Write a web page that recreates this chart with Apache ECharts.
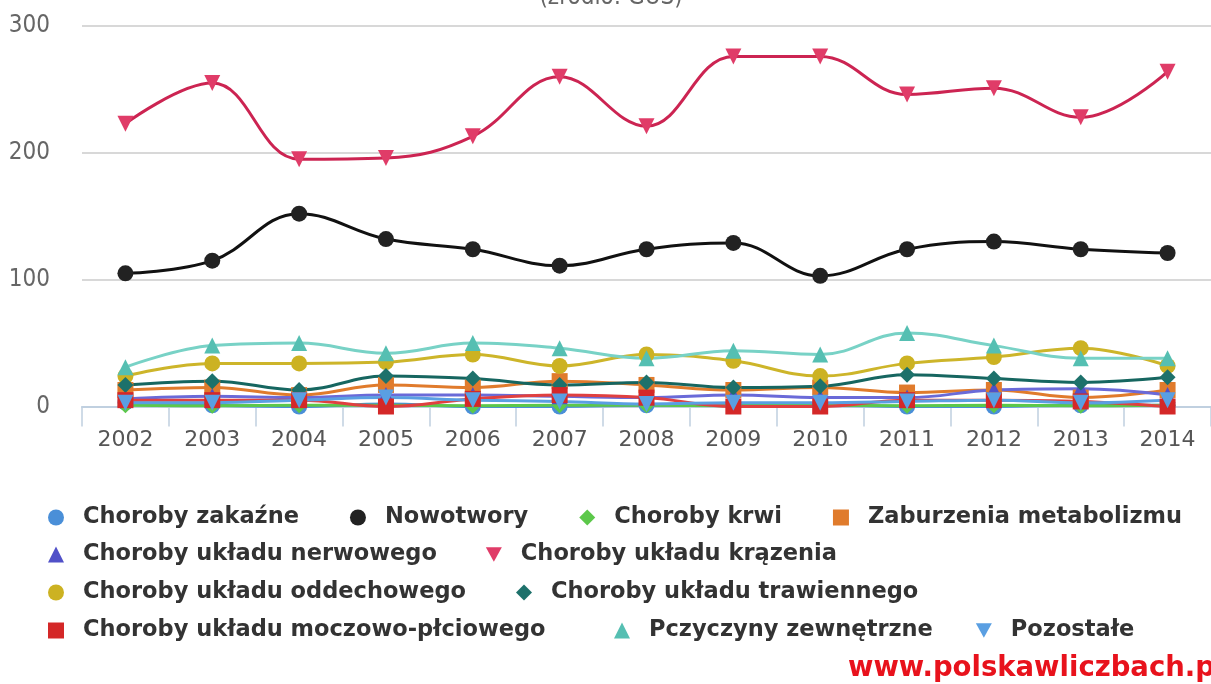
<!DOCTYPE html>
<html>
<head>
<meta charset="utf-8">
<style>
  html, body { margin: 0; padding: 0; background: #fff; }
  #chart { width: 1211px; height: 684px; }
</style>
<script src="https://cdn.jsdelivr.net/npm/echarts@6/dist/echarts.min.js"></script>
</head>
<body>
<div id="chart"></div>
<script>
// lata
var years = ['2002', '2003', '2004', '2005', '2006', '2007', '2008', '2009', '2010', '2011', '2012', '2013', '2014']

// wartości
var zakazne = [3, 1, 0, 2, 0, 0, 1, 1, 1, 0, 0, 1, 1]
var nowotwory = [105, 115, 152, 132, 124, 111, 124, 129, 103, 124, 130, 124, 121]
var krwi = [1, 0.5, 1, 1, 0.5, 1, 1, 0.5, 1, 0.5, 1, 0.5, 1]
var metabolizmu = [13, 15, 9, 17, 15, 20, 17, 13, 15, 11, 13, 7, 13]
var nerwowego = [6, 8, 7, 9, 9, 8, 7, 9, 7, 7, 13, 14, 9]
var krazenia = [223, 255, 195, 196, 213, 260, 221, 276, 276, 246, 251, 228, 264]
var oddechowego = [24, 34, 34, 35, 41, 32, 41, 36, 24, 34, 39, 46, 32]
var trawiennego = [17, 20, 13, 24, 22, 17, 19, 15, 16, 25, 22, 19, 23]
var moczowo = [5, 5, 5, 0, 6, 9, 7, 0, 0, 5, 5, 4, 0]
var zewnetrzne = [31, 48, 50, 42, 50, 46, 38, 44, 41, 58, 48, 38, 38]
var pozostale = [3, 3, 5, 7, 5, 4, 2, 3, 3, 4, 5, 3, 5]

var yTicks = [0, 100, 200, 300]

var downTri = 'path://M0,0L10,0L5,9Z'
var narrow = '"DejaVu Sans Condensed", "Liberation Sans", sans-serif'

function line(name, data, color, symbol, lineColor, rotate) {
  return {
    name: name,
    type: 'line',
    data: data,
    smooth: 0.4,
    symbol: symbol,
    symbolSize: 16,
    symbolRotate: rotate || 0,
    itemStyle: { color: color },
    lineStyle: { color: lineColor || color, width: 3 }
  }
}

function legendRow(left, top, gap, items) {
  return {
    left: left,
    top: top,
    padding: 0,
    itemWidth: 16,
    itemHeight: 16,
    itemGap: gap,
    selectedMode: false,
    textStyle: {
      fontFamily: 'DejaVu Sans',
      fontWeight: 'bold',
      fontSize: 22.5,
      color: '#333',
      padding: [0, 0, 0, 14]
    },
    data: items
  }
}

var chart = echarts.init(document.getElementById('chart'))
chart.setOption({
  animation: false,
  backgroundColor: '#fff',
  grid: { left: 82, right: -6, top: 26, bottom: 277.5, containLabel: false },
  graphic: [
    {
      type: 'text',
      x: 611,
      y: 10,
      style: {
        text: '(źródło: GUS)',
        fontFamily: narrow,
        fontSize: 24,
        fill: '#666',
        align: 'center',
        verticalAlign: 'bottom'
      }
    },
    {
      type: 'text',
      x: 848,
      y: 669,
      style: {
        text: 'www.polskawliczbach.pl',
        fontFamily: 'DejaVu Sans',
        fontWeight: 'bold',
        fontSize: 27.5,
        fill: '#e8121c',
        verticalAlign: 'middle'
      }
    }
  ],
  legend: [
    legendRow(48, 506, 51, [
      { name: 'Choroby zakaźne', icon: 'circle' },
      { name: 'Nowotwory', icon: 'circle' },
      { name: 'Choroby krwi', icon: 'diamond' },
      { name: 'Zaburzenia metabolizmu', icon: 'rect' }
    ]),
    legendRow(48, 543, 49, [
      { name: 'Choroby układu nerwowego', icon: 'triangle' },
      { name: 'Choroby układu krązenia', icon: downTri }
    ]),
    legendRow(48, 581, 50, [
      { name: 'Choroby układu oddechowego', icon: 'circle' },
      { name: 'Choroby układu trawiennego', icon: 'diamond' }
    ]),
    legendRow(48, 619, 46, [
      { name: 'Choroby układu moczowo-płciowego', icon: 'rect' }
    ]),
    legendRow(614, 619, 43, [
      { name: 'Pczyczyny zewnętrzne', icon: 'triangle' },
      { name: 'Pozostałe', icon: downTri }
    ])
  ],
  xAxis: {
    type: 'category',
    data: years,
    boundaryGap: true,
    axisLine: { lineStyle: { color: '#c0d0e0', width: 2 } },
    axisTick: { show: true, length: 20, lineStyle: { color: '#c0d0e0', width: 1.5 } },
    axisLabel: { fontFamily: 'DejaVu Sans', fontSize: 22, color: '#555', margin: 23 },
    splitLine: { show: false }
  },
  yAxis: {
    type: 'value',
    min: yTicks[0],
    max: yTicks[yTicks.length - 1],
    interval: 100,
    axisLine: { show: false },
    axisTick: { show: false },
    axisLabel: { fontFamily: narrow, fontSize: 24, color: '#666', margin: 32 },
    splitLine: { lineStyle: { color: '#d8d8d8', width: 2 } }
  },
  series: [
    line('Choroby zakaźne', zakazne, '#4a8fd8', 'circle'),
    line('Nowotwory', nowotwory, '#222222', 'circle', '#111111'),
    line('Choroby krwi', krwi, '#5cc84a', 'diamond'),
    line('Zaburzenia metabolizmu', metabolizmu, '#e07b2c', 'rect'),
    line('Choroby układu nerwowego', nerwowego, '#5050c8', 'triangle', '#6a6ad8'),
    line('Choroby układu krązenia', krazenia, '#e03c68', 'triangle', '#cc2452', 180),
    line('Choroby układu oddechowego', oddechowego, '#ccb222', 'circle', '#cdb52a'),
    line('Choroby układu trawiennego', trawiennego, '#1d716b', 'diamond', '#166660'),
    line('Choroby układu moczowo-płciowego', moczowo, '#d42828', 'rect', '#e04040'),
    line('Pczyczyny zewnętrzne', zewnetrzne, '#55bfb2', 'triangle', '#78d2c6'),
    line('Pozostałe', pozostale, '#5a9fe2', 'triangle', '#5a9fe2', 180)
  ]
})
</script>
</body>
</html>
